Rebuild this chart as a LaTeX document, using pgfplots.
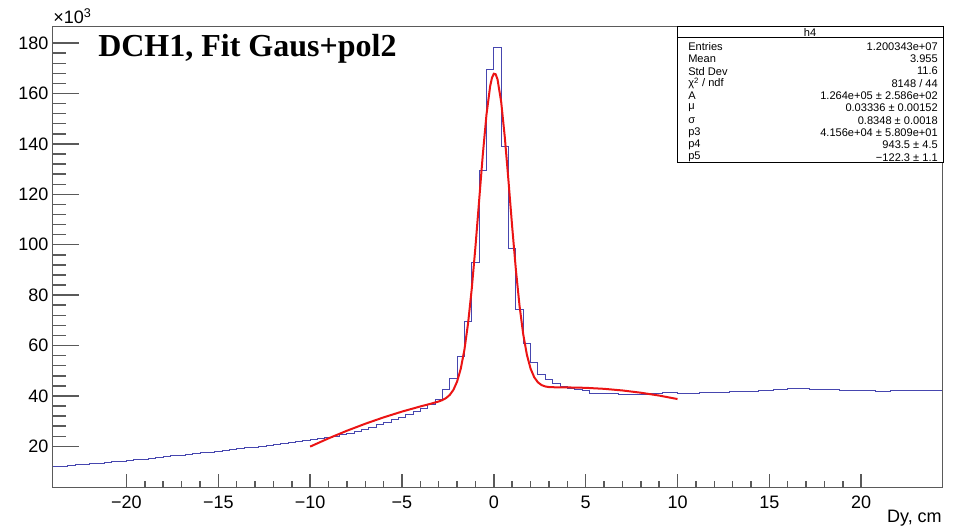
\documentclass[border=0pt]{standalone}
\usepackage{fontspec}
\setmainfont{Liberation Sans}
\newfontfamily\serifbf{Liberation Serif}
\usepackage{pgfplots}
\pgfplotsset{compat=1.18}
\definecolor{histblue}{RGB}{70,70,175}
\definecolor{fitred}{RGB}{235,20,20}
\definecolor{framegray}{RGB}{90,90,90}
\begin{document}
\begin{tikzpicture}
\begin{axis}[
  scale only axis, width=666.75pt, height=345.5pt,
  xmin=-24, xmax=24.4, ymin=3.6, ymax=186.4,
  axis line style={framegray, line width=0.75pt},
  tick align=inside, xtick pos=bottom, ytick pos=left,
  minor x tick num=4, minor y tick num=4,
  tick style={framegray, line width=1.1pt},
  xtick style={/pgfplots/major tick length=10.3pt, /pgfplots/minor tick length=5pt},
  ytick style={/pgfplots/major tick length=19.3pt, /pgfplots/minor tick length=9.5pt},
  xtick={-20,-15,-10,-5,0,5,10,15,20},
  xticklabels={−20,−15,−10,−5,0,5,10,15,20},
  ytick={20,40,60,80,100,120,140,160,180},
  yticklabels={20,40,60,80,100,120,140,160,180},
  ticklabel style={font=\fontsize{13.5}{16}\selectfont},
  xticklabel style={yshift=-2.5pt},
]
\addplot[const plot, histblue, line width=0.65pt, mark=none] coordinates {
(-24.0,12.0) (-23.6,12.2) (-23.2,12.4) (-22.8,12.7) (-22.4,12.9) (-22.0,13.2)
(-21.6,13.4) (-21.2,13.7) (-20.8,13.9) (-20.4,14.2) (-20.0,14.4) (-19.6,14.7)
(-19.2,15.0) (-18.8,15.3) (-18.4,15.6) (-18.0,15.9) (-17.6,16.2) (-17.2,16.5)
(-16.8,16.8) (-16.4,17.1) (-16.0,17.4) (-15.6,17.7) (-15.2,18.0) (-14.8,18.4)
(-14.4,18.7) (-14.0,19.0) (-13.6,19.4) (-13.2,19.7) (-12.8,20.1) (-12.4,20.4)
(-12.0,20.8) (-11.6,21.1) (-11.2,21.5) (-10.8,21.9) (-10.4,22.3) (-10.0,22.7)
(-9.6,23.1) (-9.2,23.6) (-8.8,24.1) (-8.4,24.7) (-8.0,25.3) (-7.6,26.0)
(-7.2,26.8) (-6.8,27.6) (-6.4,28.6) (-6.0,29.5) (-5.6,30.5) (-5.2,31.5)
(-4.8,32.6) (-4.4,33.7) (-4.0,35.0) (-3.6,36.5) (-3.2,38.5) (-2.8,42.6)
(-2.4,47.1) (-2.0,55.7) (-1.6,69.6) (-1.2,92.8) (-0.8,129.4) (-0.4,169.5)
(0.0,178.1) (0.4,139.1) (0.8,98.7) (1.2,74.2) (1.6,60.8) (2.0,53.3)
(2.4,48.6) (2.8,46.7) (3.2,45.0) (3.6,43.9) (4.0,43.0) (4.4,42.6)
(4.8,42.2) (5.2,41.0) (5.6,40.9) (6.0,40.8) (6.4,40.8) (6.8,40.7)
(7.2,40.7) (7.6,40.7) (8.0,40.7) (8.4,40.8) (8.8,41.1) (9.2,41.2)
(9.6,41.5) (10.0,41.0) (10.4,40.9) (10.8,41.0) (11.2,41.2) (11.6,41.2)
(12.0,41.3) (12.4,41.5) (12.8,41.7) (13.2,41.8) (13.6,41.8) (14.0,41.9)
(14.4,42.1) (14.8,42.2) (15.2,42.5) (15.6,42.7) (16.0,42.8) (16.4,42.9)
(16.8,42.8) (17.2,42.7) (17.6,42.6) (18.0,42.5) (18.4,42.4) (18.8,42.3)
(19.2,42.2) (19.6,42.1) (20.0,42.0) (20.4,42.0) (20.8,41.9) (21.2,41.9)
(21.6,42.0) (22.0,42.0) (22.4,42.1) (22.8,42.2) (23.2,42.2) (23.6,42.3)
(24.0,42.3) (24.4,42.3)
};
\addplot[fitred, line width=1.5pt, mark=none] coordinates {
(-10,19.895) (-9,23.162) (-8,26.185) (-7,28.963) (-6,31.496) (-5,33.785)
(-4,35.830) (-3.5,36.776) (-3.0,37.800) (-2.8,38.358) (-2.6,39.153) (-2.4,40.397)
(-2.2,42.419) (-2.0,45.691) (-1.8,50.802) (-1.6,58.378) (-1.4,68.943) (-1.2,82.691)
(-1.0,99.244) (-0.8,117.525) (-0.6,135.741) (-0.4,151.629) (-0.2,162.922) (-0.1,166.261)
(0,167.859) (0.1,167.651) (0.2,165.650) (0.4,156.696) (0.6,142.478) (0.8,125.148)
(1.0,107.036) (1.2,90.120) (1.4,75.736) (1.6,64.482) (1.8,56.327) (2.0,50.838)
(2.2,47.400) (2.4,45.393) (2.6,44.306) (2.8,43.764) (3.0,43.519) (3.5,43.387)
(4,43.379) (5,43.220) (6,42.818) (7,42.172) (8,41.281) (9,40.145) (10,38.765)
};
\end{axis}
\begin{scope}[shift={(current axis.north west)}, x=0.75pt, y=-0.75pt]
  \draw[black, line width=0.75pt, fill=white] (624,0) rectangle (890,136);
  \draw[black, line width=0.75pt] (624,11) -- (890,11);
  \begin{scope}[every node/.style={font=\fontsize{8.3}{9}\selectfont, inner sep=0pt}]
    \node at (757,5.8) {h4};
    \node[anchor=west] at (635,19.5) {Entries};
    \node[anchor=east] at (885,19.5) {1.200343e+07};
    \node[anchor=west] at (635,31.8) {Mean};
    \node[anchor=east] at (885,31.8) {3.955};
    \node[anchor=west] at (635,44.1) {Std Dev};
    \node[anchor=east] at (885,44.1) {11.6};
    \node[anchor=west] at (635,56.4) {χ\textsuperscript{2} / ndf};
    \node[anchor=east] at (885,56.4) {8148 / 44};
    \node[anchor=west] at (635,68.7) {A};
    \node[anchor=east] at (885,68.7) {1.264e+05 ± 2.586e+02};
    \node[anchor=west] at (635,81) {μ};
    \node[anchor=east] at (885,81) {0.03336 ± 0.00152};
    \node[anchor=west] at (635,93.3) {σ};
    \node[anchor=east] at (885,93.3) {0.8348 ± 0.0018};
    \node[anchor=west] at (635,105.6) {p3};
    \node[anchor=east] at (885,105.6) {4.156e+04 ± 5.809e+01};
    \node[anchor=west] at (635,117.9) {p4};
    \node[anchor=east] at (885,117.9) {943.5 ± 4.5};
    \node[anchor=west] at (635,130.2) {p5};
    \node[anchor=east] at (885,130.2) {−122.3 ± 1.1};
  \end{scope}
  \node[anchor=base west, inner sep=0pt, font=\serifbf\bfseries\fontsize{24}{28}\selectfont] at (45,30) {DCH1, Fit Gaus+pol2};
  \node[anchor=base west, inner sep=0pt, font=\fontsize{13.5}{16}\selectfont] at (0,-3) {×10\textsuperscript{3}};
  \node[anchor=base east, inner sep=0pt, font=\fontsize{13.5}{16}\selectfont] at (889,495) {Dy, cm};
  \pgfresetboundingbox
  \useasboundingbox (-53,-27) rectangle (906,504);
\end{scope}
\end{tikzpicture}
\end{document}
